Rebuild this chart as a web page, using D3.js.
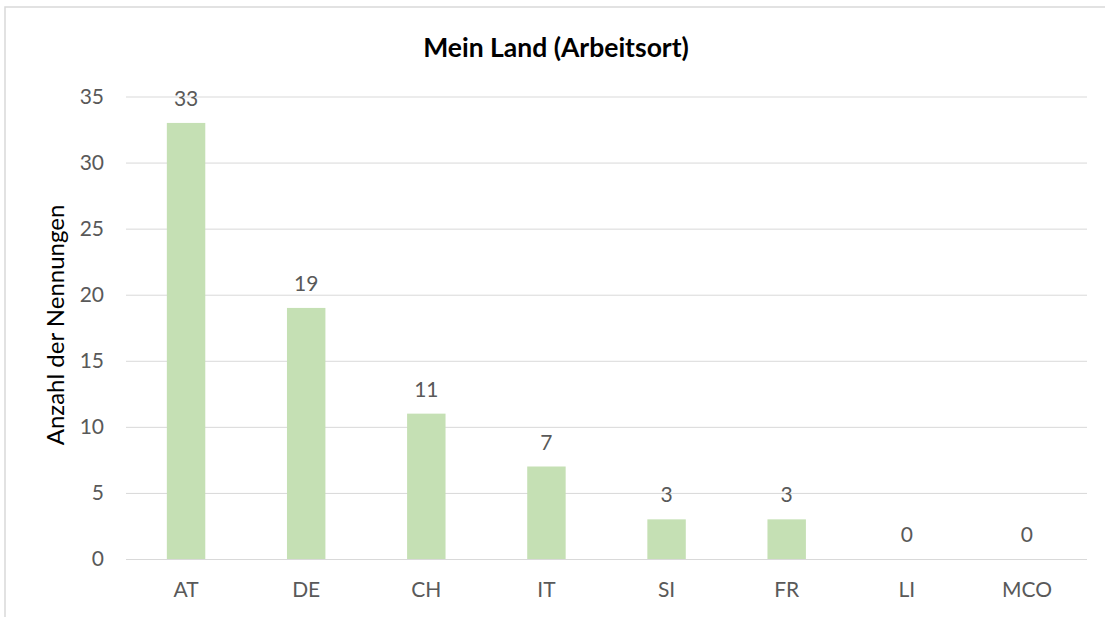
<!DOCTYPE html>
<html><head><meta charset="utf-8">
<script src="https://cdn.jsdelivr.net/npm/d3@7"></script>
<style>body{margin:0;background:#fff}svg{display:block}</style>
</head><body>
<svg id="c" width="1105" height="617"></svg>
<script>
const categories = ["AT","DE","CH","IT","SI","FR","LI","MCO"];
const values = [33,19,11,7,3,3,0,0];
const yTicks = [0,5,10,15,20,25,30,35];
const title = "Mein Land (Arbeitsort)";
const yLabel = "Anzahl der Nennungen";

const svg = d3.select("#c");
const font = "Lato, 'Open Sans', sans-serif";
const pLeft = 126, pRight = 1087, pTop = 96.5, pBottom = 559;

svg.append("rect").attr("x",5).attr("y",7).attr("width",1110).attr("height",620)
  .attr("fill","#fff").attr("stroke","#d9d9d9").attr("stroke-width",1.5);

const x = d3.scaleBand().domain(categories).range([pLeft,pRight]).paddingInner(0.68).paddingOuter(0.34);
const y = d3.scaleLinear().domain([0,35]).range([pBottom,pTop]);

const ya = svg.append("g").attr("transform",`translate(${pLeft},0)`)
  .call(d3.axisLeft(y).tickValues(yTicks).tickSize(-(pRight-pLeft)).tickPadding(22));
ya.select(".domain").remove();
ya.selectAll(".tick line").attr("stroke","#d9d9d9").attr("stroke-width",1);
ya.selectAll(".tick text").attr("fill","#595959").style("font-family",font).style("font-size","21px");

svg.append("g").selectAll("rect").data(values).join("rect")
  .attr("x",(d,i)=>x(categories[i])).attr("width",x.bandwidth())
  .attr("y",d=>y(d)).attr("height",d=>y(0)-y(d)).attr("fill","#c5e0b4");

svg.append("g").selectAll("text").data(values).join("text")
  .attr("x",(d,i)=>x(categories[i])+x.bandwidth()/2).attr("y",d=>y(d)-17)
  .attr("text-anchor","middle").attr("fill","#595959")
  .style("font-family",font).style("font-size","21px").text(d=>d);

const xa = svg.append("g").attr("transform",`translate(0,${pBottom})`)
  .call(d3.axisBottom(x).tickSize(0).tickPadding(23));
xa.select(".domain").remove();
xa.selectAll(".tick text").attr("fill","#595959").style("font-family",font).style("font-size","21px");

svg.append("text").attr("x",556).attr("y",57).attr("text-anchor","middle")
  .attr("fill","#000").style("font-family",font).style("font-weight","bold").style("font-size","26.5px").text(title);

svg.append("text").attr("transform","translate(64,325) rotate(-90)").attr("text-anchor","middle")
  .attr("fill","#000").style("font-family",font).style("font-size","24px").text(yLabel);
</script>
</body></html>
